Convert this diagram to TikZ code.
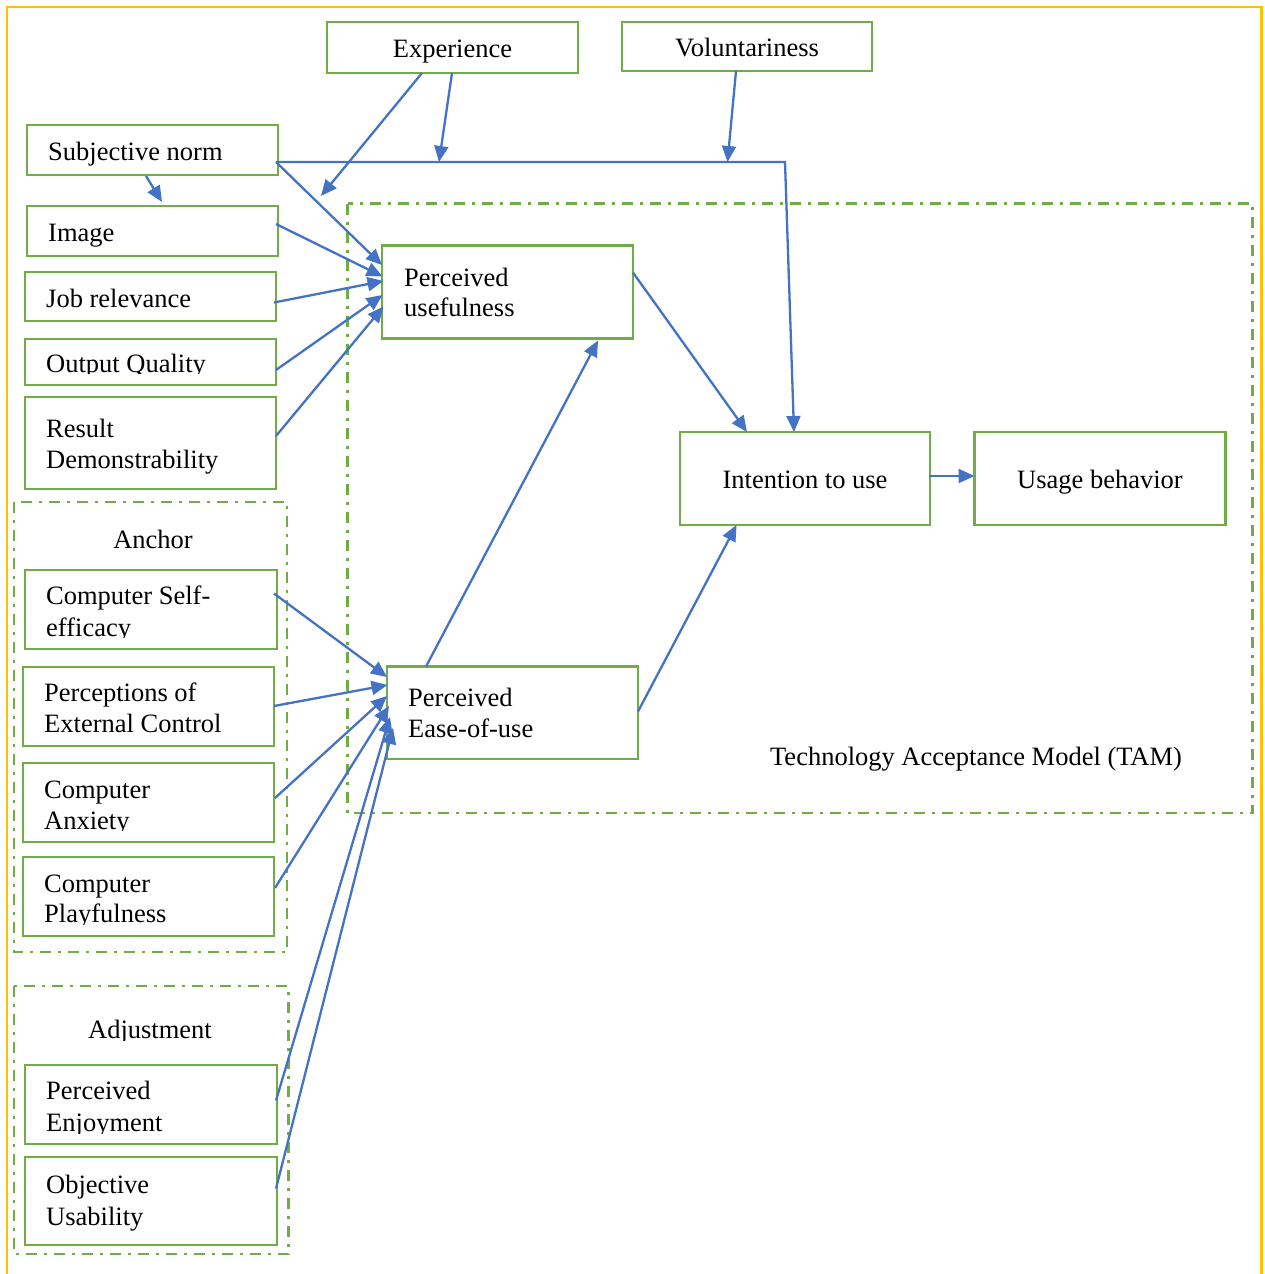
\documentclass[tikz,border=0pt]{standalone}
\usepackage{fontspec}
\setmainfont{Liberation Serif}
\usetikzlibrary{arrows.meta,calc}
\definecolor{boxgreen}{HTML}{70AD47}
\definecolor{linkblue}{HTML}{4472C4}
\definecolor{framegold}{HTML}{FFC000}

\begin{document}
\begin{tikzpicture}[x=1pt,y=-1pt,
  box/.style={draw=boxgreen, line width=2.6pt, inner sep=0pt, outer sep=0pt, anchor=north west},
  group/.style={draw=boxgreen, line width=2.4pt, dash pattern=on 11pt off 7pt on 3pt off 7pt},
  lbl/.style={inner sep=0pt, anchor=base west, font=\fontsize{26.5}{31}\selectfont},
  clbl/.style={lbl, anchor=base},
  link/.style={draw=linkblue, line width=2.3pt, -{Triangle[length=16pt,width=14pt]}},
]
% canvas
\fill[white] (0,0) rectangle (1264,1274);
\useasboundingbox (0,0) rectangle (1264,1274);
\draw[framegold, line width=2.6pt] (7,1274) -- (7,7) -- (1261.5,7) -- (1261.5,1274);

% dash-dot groupings
\draw[group] (347.5,203.5) rectangle (1252.5,813);
\draw[group] (14,502) rectangle (287,952);
\draw[group] (14,986) rectangle (288.5,1254);

% boxes
\node[box, minimum width=251pt, minimum height=51pt] (exp) at (327,22) {};
\node[box, minimum width=250pt, minimum height=49pt] (vol) at (622,22) {};
\node[box, minimum width=251pt, minimum height=50pt] (sn) at (27,125) {};
\node[box, minimum width=251pt, minimum height=50pt] (img) at (27,206) {};
\node[box, minimum width=251pt, minimum height=49pt] (job) at (25,272) {};
\node[box, minimum width=251pt, minimum height=46pt] (oq) at (25,339) {};
\node[box, minimum width=251pt, minimum height=92pt] (rd) at (25,397) {};
\node[box, minimum width=252pt, minimum height=79pt] (cse) at (25,570) {};
\node[box, minimum width=251pt, minimum height=79pt] (pec) at (23,667) {};
\node[box, minimum width=251pt, minimum height=79pt] (ca) at (23,763) {};
\node[box, minimum width=251pt, minimum height=79pt] (cp) at (23,857) {};
\node[box, minimum width=252pt, minimum height=79pt] (pe) at (25,1065) {};
\node[box, minimum width=252pt, minimum height=88pt] (ou) at (25,1157) {};
\node[box, minimum width=251pt, minimum height=93pt] (pu) at (382,245.5) {};
\node[box, minimum width=251pt, minimum height=92.5pt] (peou) at (387,666.5) {};
\node[box, minimum width=250pt, minimum height=93pt] (iu) at (680,432) {};
\node[box, minimum width=251pt, minimum height=93pt] (ub) at (974.5,432) {};

% labels
\node[clbl] (expt) at (452.5,57) {Experience};
\node[clbl] (volt) at (747,56.5) {Voluntariness};
\node[lbl] (snt) at (48,160) {Subjective norm};
\node[lbl] (imgt) at (48,241) {Image};
\node[lbl] (jobt) at (46,307) {Job relevance};
\begin{scope}
  \clip (0,0) rectangle (300,373.5);
  \node[lbl] (oqt) at (46,372) {Output Quality};
\end{scope}
\node[lbl] (rdt1) at (46,437) {Result};
\node[lbl] (rdt2) at (46,468) {Demonstrability};
\node[clbl] (anchort) at (153,548) {Anchor};
\node[lbl] (cset1) at (46,604) {Computer Self-};
\begin{scope}
  \clip (0,0) rectangle (300,637.5);
  \node[lbl] (cset2) at (46,636) {efficacy};
\end{scope}
\node[lbl] (pect1) at (44,701) {Perceptions of};
\node[lbl] (pect2) at (44,732) {External Control};
\node[lbl] (cat1) at (44,798) {Computer};
\begin{scope}
  \clip (0,0) rectangle (300,830.5);
  \node[lbl] (cat2) at (44,829) {Anxiety};
\end{scope}
\node[lbl] (cpt1) at (44,892) {Computer};
\begin{scope}
  \clip (0,0) rectangle (300,924);
  \node[lbl] (cpt2) at (44,922.5) {Playfulness};
\end{scope}
\begin{scope}
  \clip (0,0) rectangle (300,1040);
  \node[clbl] (adjt) at (150,1038.5) {Adjustment};
\end{scope}
\node[lbl] (pet1) at (46,1099) {Perceived};
\begin{scope}
  \clip (0,0) rectangle (300,1133);
  \node[lbl] (pet2) at (46,1131) {Enjoyment};
\end{scope}
\node[lbl] (out1) at (46,1193) {Objective};
\node[lbl] (out2) at (46,1225) {Usability};
\node[lbl] (put1) at (404,286) {Perceived};
\node[lbl] (put2) at (404,316.5) {usefulness};
\node[lbl] (peout1) at (408,706) {Perceived};
\node[lbl] (peout2) at (408,737) {Ease-of-use};
\node[clbl] (iut) at (805,488) {Intention to use};
\node[clbl] (ubt) at (1100,488) {Usage behavior};
\node[clbl] (tamt) at (976,765) {Technology Acceptance Model (TAM)};

% free ends of connectors
\coordinate (expend) at (321,196);
\coordinate (snbend) at (785,162);

% moderators
\draw[link] ($(exp.south west)+(95,0)$) -- (expend);
\draw[link] ($(exp.south west)+(125,0)$) -- (439,162);
\draw[link] ($(vol.south west)+(114,0)$) -- (727.5,162);

% subjective norm
\draw[link] ($(sn.north east)+(-2,37)$) -- (783.5,162) -- (snbend) -- ($(iu.north west)+(114,0)$);
\draw[link] ($(sn.north east)+(-2,37)$) -- ($(pu.north west)+(0,19.5)$);
\draw[link] ($(sn.south west)+(119,1)$) -- ($(img.north west)+(135,-4)$);

% determinants of perceived usefulness
\draw[link] ($(img.north east)+(-2,18)$) -- ($(pu.north west)+(0.5,31)$);
\draw[link] ($(job.north east)+(-2,30.5)$) -- ($(pu.north west)+(1.5,35.5)$);
\draw[link] ($(oq.north east)+(0,31)$) -- ($(pu.north west)+(0.5,49.5)$);
\draw[link] ($(rd.north east)+(0,39)$) -- ($(pu.north west)+(1.5,61)$);

% determinants of perceived ease of use
\draw[link] ($(cse.north east)+(-3,23.5)$) -- ($(peou.north west)+(0,10.5)$);
\draw[link] ($(pec.north east)+(0,39)$) -- ($(peou.north west)+(0.5,18.5)$);
\draw[link] ($(ca.north east)+(1,35)$) -- ($(peou.north west)+(0,29.5)$);
\draw[link] ($(cp.north east)+(1,31)$) -- ($(peou.north west)+(2,39.5)$);
\draw[link] ($(pe.north east)+(-1,35.5)$) -- ($(peou.north west)+(3,50.5)$);
\draw[link] ($(ou.north east)+(-1,31.5)$) -- ($(peou.north west)+(6,61.5)$);

% core TAM relations
\draw[link] ($(pu.north east)+(0,27)$) -- ($(iu.north west)+(67,0)$);
\draw[link] ($(peou.north west)+(39,0)$) -- ($(pu.south west)+(216,2)$);
\draw[link] ($(peou.north east)+(0,45)$) -- ($(iu.south west)+(56.5,0)$);
\draw[link] ($(iu.north east)+(-1,44)$) -- ($(ub.north west)+(0,44)$);
\end{tikzpicture}
\end{document}
